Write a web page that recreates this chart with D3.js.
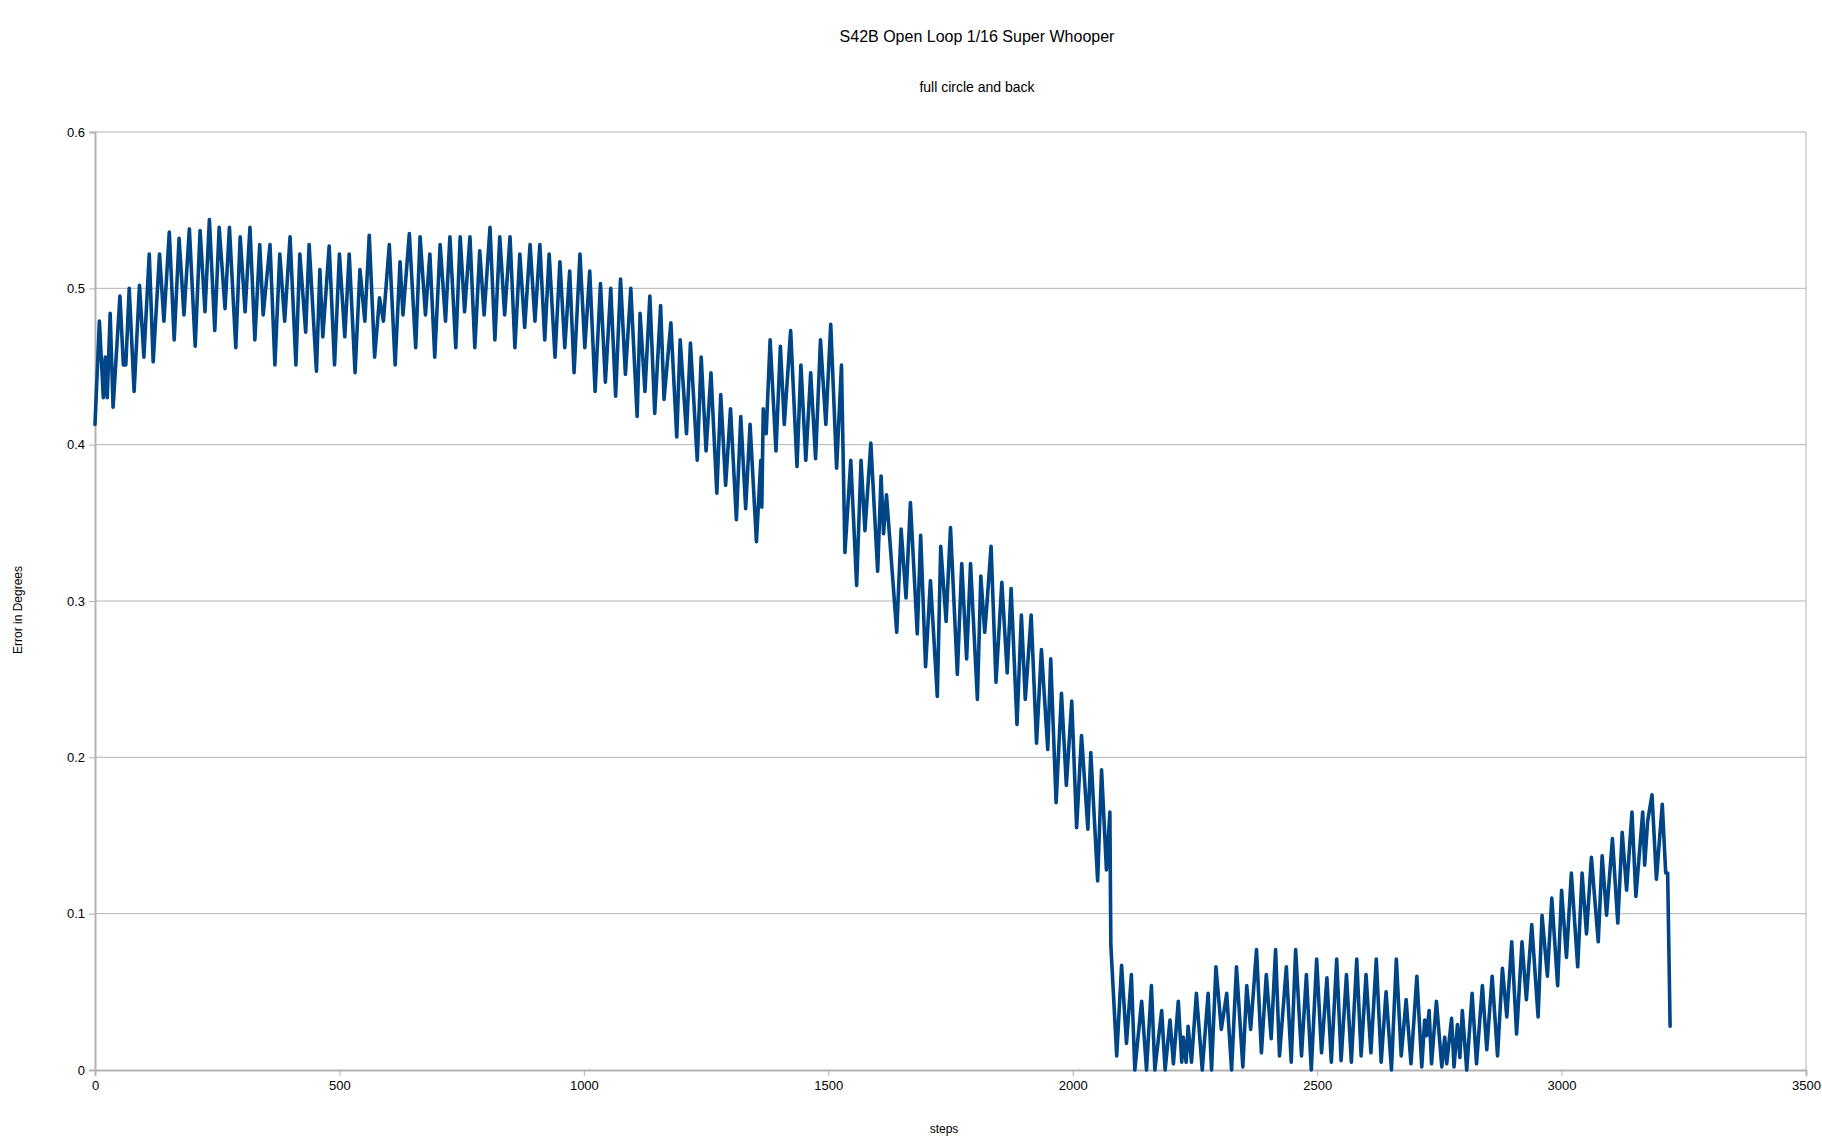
<!DOCTYPE html>
<html>
<head>
<meta charset="utf-8">
<script src="https://cdn.jsdelivr.net/npm/d3@7"></script>
<style>
  html, body { margin: 0; padding: 0; background: #ffffff; }
  svg text { font-family: "Liberation Sans", Arial, sans-serif; fill: #000; }
</style>
</head>
<body>
<svg id="chart" width="1822" height="1140"></svg>
<script>
// ---- Data ----
const title = "S42B Open Loop 1/16 Super Whooper";
const subtitle = "full circle and back";
const xAxisTitle = "steps";
const yAxisTitle = "Error in Degrees";

const xTicks = [0, 500, 1000, 1500, 2000, 2500, 3000, 3500];
const yTicks = [0, 0.1, 0.2, 0.3, 0.4, 0.5, 0.6];

// Step positions of the sampled turning points
const steps = [
  0, 9, 17, 21, 25, 31, 37, 51, 58, 63, 70, 80, 91, 100, 111, 119, 132, 141, 152, 162,
  172, 182, 193, 205, 215, 225, 234, 245, 254, 266, 275, 288, 297, 307, 317, 327, 337, 344, 358, 368,
  378, 388, 399, 411, 419, 431, 438, 453, 460, 466, 479, 490, 500, 511, 520, 532, 542, 552, 561, 572,
  582, 590, 602, 614, 624, 630, 643, 656, 665, 676, 685, 695, 706, 717, 726, 738, 747, 756, 767, 777,
  787, 796, 808, 818, 828, 838, 849, 859, 869, 879, 890, 900, 910, 920, 929, 941, 951, 961, 971, 980,
  992, 1002, 1012, 1023, 1034, 1044, 1055, 1065, 1075, 1085, 1096, 1109, 1115, 1125, 1135, 1145, 1157, 1164, 1178, 1190,
  1197, 1210, 1218, 1232, 1240, 1250, 1260, 1272, 1280, 1290, 1300, 1312, 1321, 1331, 1340, 1353, 1362, 1364, 1367, 1373,
  1381, 1393, 1402, 1410, 1423, 1436, 1444, 1454, 1464, 1474, 1484, 1495, 1505, 1517, 1527, 1534, 1546, 1558, 1567, 1575,
  1587, 1601, 1608, 1613, 1619, 1640, 1649, 1659, 1668, 1682, 1689, 1699, 1709, 1723, 1730, 1741, 1750, 1764, 1773, 1783,
  1791, 1805, 1812, 1820, 1825, 1833, 1843, 1855, 1866, 1874, 1886, 1895, 1903, 1915, 1926, 1936, 1949, 1955, 1966, 1977,
  1987, 1998, 2008, 2018, 2031, 2037, 2051, 2059, 2069, 2076, 2078, 2090, 2100, 2110, 2120, 2127, 2141, 2151, 2161, 2168,
  2182, 2189, 2199, 2206, 2216, 2223, 2226, 2232, 2236, 2243, 2253, 2265, 2277, 2284, 2293, 2304, 2315, 2325, 2335, 2348,
  2356, 2364, 2376, 2386, 2396, 2406, 2415, 2423, 2437, 2447, 2456, 2468, 2478, 2488, 2499, 2509, 2520, 2529, 2540, 2549,
  2560, 2570, 2581, 2590, 2600, 2610, 2621, 2631, 2641, 2652, 2662, 2672, 2682, 2692, 2704, 2714, 2720, 2724, 2729, 2734,
  2744, 2755, 2761, 2765, 2775, 2780, 2787, 2792, 2797, 2806, 2817, 2826, 2838, 2847, 2858, 2869, 2879, 2888, 2898, 2908,
  2919, 2928, 2939, 2952, 2960, 2971, 2980, 2992, 3000, 3010, 3020, 3033, 3042, 3051, 3061, 3075, 3083, 3092, 3104, 3115,
  3124, 3133, 3144, 3152, 3166, 3170, 3176, 3185, 3194, 3206, 3213, 3217, 3222
];

// Error in degrees at those steps
const errorDeg = [
  0.413, 0.479, 0.430, 0.456, 0.430, 0.484, 0.424, 0.495, 0.451, 0.451, 0.500, 0.434, 0.502, 0.456, 0.522, 0.453, 0.522, 0.479, 0.536, 0.467,
  0.532, 0.483, 0.538, 0.463, 0.537, 0.485, 0.544, 0.473, 0.539, 0.487, 0.539, 0.462, 0.533, 0.485, 0.539, 0.467, 0.528, 0.483, 0.528, 0.451,
  0.522, 0.479, 0.533, 0.451, 0.522, 0.472, 0.528, 0.447, 0.512, 0.469, 0.527, 0.451, 0.522, 0.469, 0.522, 0.446, 0.512, 0.479, 0.534, 0.456,
  0.494, 0.479, 0.528, 0.451, 0.517, 0.483, 0.535, 0.462, 0.533, 0.483, 0.522, 0.456, 0.528, 0.479, 0.533, 0.462, 0.533, 0.485, 0.533, 0.462,
  0.524, 0.483, 0.539, 0.467, 0.533, 0.483, 0.533, 0.462, 0.522, 0.475, 0.528, 0.479, 0.528, 0.467, 0.522, 0.456, 0.517, 0.462, 0.511, 0.446,
  0.522, 0.462, 0.511, 0.434, 0.503, 0.440, 0.500, 0.431, 0.506, 0.445, 0.500, 0.418, 0.484, 0.434, 0.495, 0.420, 0.489, 0.429, 0.478, 0.405,
  0.467, 0.407, 0.465, 0.390, 0.456, 0.396, 0.446, 0.369, 0.432, 0.374, 0.423, 0.352, 0.418, 0.359, 0.413, 0.338, 0.390, 0.360, 0.423, 0.407,
  0.467, 0.396, 0.463, 0.413, 0.473, 0.386, 0.451, 0.390, 0.446, 0.391, 0.467, 0.413, 0.477, 0.385, 0.451, 0.331, 0.390, 0.310, 0.390, 0.345,
  0.401, 0.319, 0.380, 0.343, 0.368, 0.280, 0.346, 0.302, 0.363, 0.279, 0.342, 0.258, 0.313, 0.239, 0.335, 0.287, 0.347, 0.253, 0.324, 0.263,
  0.324, 0.237, 0.316, 0.280, 0.300, 0.335, 0.248, 0.312, 0.254, 0.308, 0.221, 0.291, 0.237, 0.291, 0.209, 0.269, 0.205, 0.263, 0.171, 0.241,
  0.182, 0.236, 0.155, 0.214, 0.154, 0.203, 0.121, 0.192, 0.128, 0.165, 0.080, 0.009, 0.067, 0.017, 0.061, 0.000, 0.044, 0.000, 0.054, 0.000,
  0.038, 0.000, 0.032, 0.004, 0.044, 0.005, 0.021, 0.005, 0.028, 0.005, 0.049, 0.000, 0.049, 0.000, 0.066, 0.026, 0.049, 0.000, 0.066, 0.002,
  0.054, 0.026, 0.077, 0.011, 0.061, 0.020, 0.077, 0.009, 0.066, 0.005, 0.077, 0.009, 0.061, 0.000, 0.071, 0.011, 0.059, 0.005, 0.071, 0.006,
  0.061, 0.005, 0.071, 0.009, 0.061, 0.011, 0.071, 0.005, 0.050, 0.000, 0.071, 0.009, 0.045, 0.004, 0.060, 0.002, 0.032, 0.022, 0.038, 0.004,
  0.044, 0.002, 0.021, 0.004, 0.033, 0.002, 0.029, 0.008, 0.038, 0.000, 0.049, 0.004, 0.054, 0.013, 0.060, 0.009, 0.065, 0.034, 0.082, 0.023,
  0.082, 0.045, 0.093, 0.034, 0.099, 0.060, 0.110, 0.054, 0.115, 0.072, 0.126, 0.066, 0.126, 0.087, 0.136, 0.082, 0.137, 0.099, 0.148, 0.094,
  0.152, 0.115, 0.165, 0.111, 0.165, 0.131, 0.159, 0.176, 0.122, 0.170, 0.126, 0.126, 0.028
];

// ---- Layout ----
const svg = d3.select("#chart");
const plot = { left: 95, right: 1806, top: 132, bottom: 1070 };

const x = d3.scaleLinear().domain([0, 3500]).range([plot.left, plot.right]);
const y = d3.scaleLinear().domain([0, 0.6]).range([plot.bottom, plot.top]);

const gridColor = "#b3b3b3";

// Horizontal gridlines
svg.append("g")
  .selectAll("line")
  .data(yTicks.filter(d => d > 0))
  .join("line")
  .attr("x1", plot.left).attr("x2", plot.right)
  .attr("y1", d => y(d)).attr("y2", d => y(d))
  .attr("stroke", gridColor).attr("stroke-width", 1);

// Right border
svg.append("line")
  .attr("x1", plot.right).attr("x2", plot.right)
  .attr("y1", plot.top).attr("y2", plot.bottom)
  .attr("stroke", gridColor).attr("stroke-width", 1);

// Y axis
const yAxis = d3.axisLeft(y).tickValues(yTicks).tickSize(6).tickPadding(4)
  .tickFormat(d => d === 0 ? "0" : d3.format(".1f")(d));
const gy = svg.append("g").attr("transform", `translate(${plot.left},0)`).call(yAxis);
gy.select(".domain").attr("stroke", gridColor).attr("stroke-width", 2);
gy.selectAll(".tick line").attr("stroke", gridColor).attr("stroke-width", 1);
gy.selectAll(".tick text").attr("font-size", 13).attr("font-family", "Liberation Sans, Arial, sans-serif").attr("fill", "#000");

// X axis
const xAxis = d3.axisBottom(x).tickValues(xTicks).tickSize(6).tickPadding(5).tickFormat(d3.format("d"));
const gx = svg.append("g").attr("transform", `translate(0,${plot.bottom})`).call(xAxis);
gx.select(".domain").attr("stroke", gridColor).attr("stroke-width", 2);
gx.selectAll(".tick line").attr("stroke", gridColor).attr("stroke-width", 1);
gx.selectAll(".tick text").attr("font-size", 13).attr("font-family", "Liberation Sans, Arial, sans-serif").attr("fill", "#000");

// Data line
const series = steps.map((s, i) => ({ step: s, value: errorDeg[i] }));
const line = d3.line().x(d => x(d.step)).y(d => y(d.value));
svg.append("path")
  .datum(series)
  .attr("d", line)
  .attr("fill", "none")
  .attr("stroke", "#004586")
  .attr("stroke-width", 3.6)
  .attr("stroke-linejoin", "round")
  .attr("stroke-linecap", "round");

// Titles
svg.append("text").attr("x", 977).attr("y", 42).attr("text-anchor", "middle")
  .attr("font-size", 16).text(title);
svg.append("text").attr("x", 977).attr("y", 92).attr("text-anchor", "middle")
  .attr("font-size", 14).text(subtitle);

// Axis titles
svg.append("text").attr("x", 944).attr("y", 1133).attr("text-anchor", "middle")
  .attr("font-size", 12).text(xAxisTitle);
svg.append("text")
  .attr("transform", "translate(22,610) rotate(-90)")
  .attr("text-anchor", "middle").attr("font-size", 12).text(yAxisTitle);
</script>
</body>
</html>
